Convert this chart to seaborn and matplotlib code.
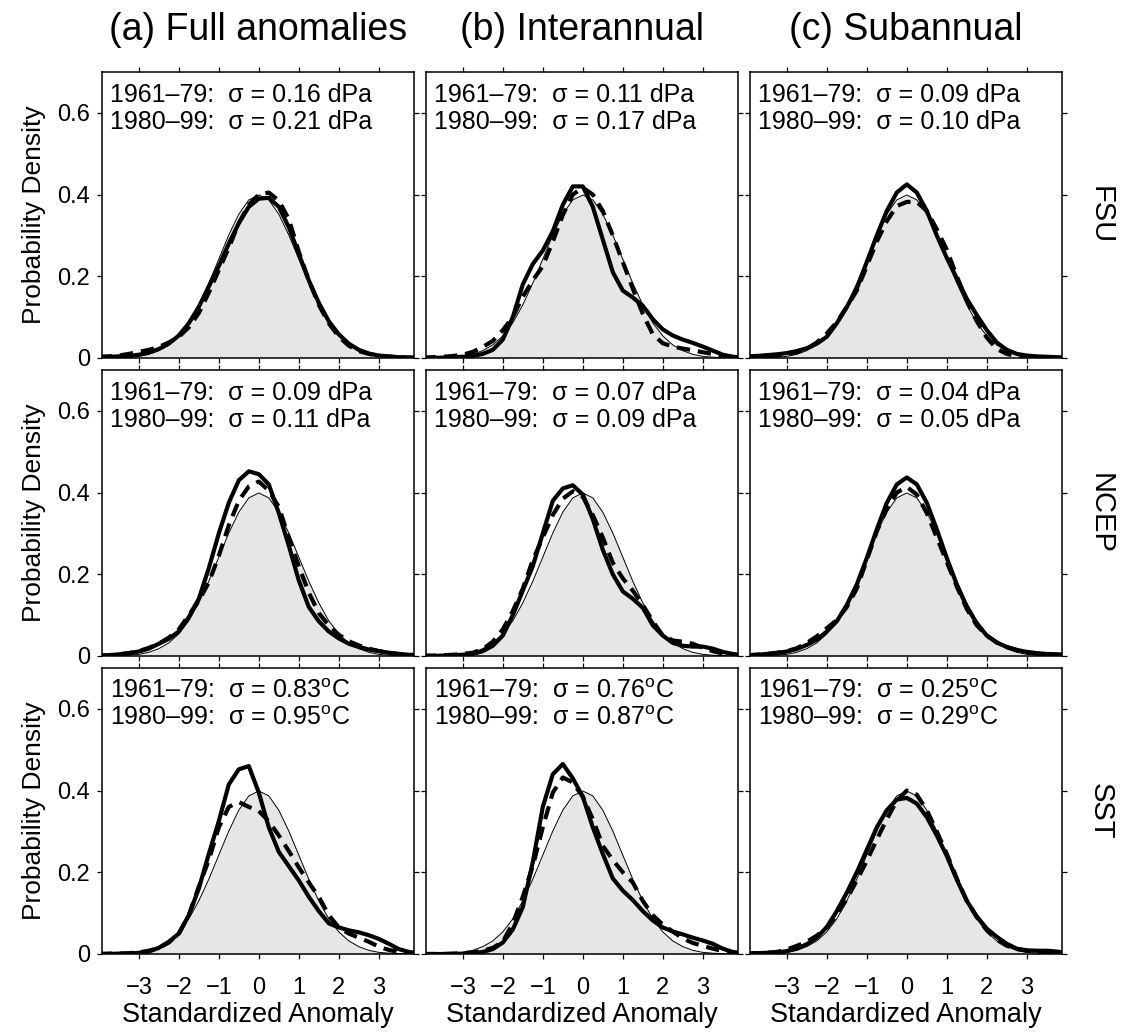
import numpy as np
import pandas as pd
import matplotlib
matplotlib.use("Agg")
import matplotlib.pyplot as plt
import seaborn as sns

# ---------------- data ----------------
x_grid = [-4.0, -3.75, -3.5, -3.25, -3.0, -2.75, -2.5, -2.25, -2.0, -1.75, -1.5, -1.25,
          -1.0, -0.75, -0.5, -0.25, 0.0, 0.25, 0.5, 0.75, 1.0, 1.25, 1.5, 1.75,
          2.0, 2.25, 2.5, 2.75, 3.0, 3.25, 3.5, 3.75, 4.0]

normal_ref = [0.000, 0.000, 0.001, 0.002, 0.004, 0.009, 0.018, 0.032, 0.054, 0.086, 0.130, 0.183,
              0.242, 0.301, 0.352, 0.387, 0.399, 0.387, 0.352, 0.301, 0.242, 0.183, 0.130, 0.086,
              0.054, 0.032, 0.018, 0.009, 0.004, 0.002, 0.001, 0.000, 0.000]

fsu_full_solid = [0.002, 0.003, 0.004, 0.005, 0.008, 0.013, 0.022, 0.035, 0.055, 0.085, 0.125, 0.175,
                  0.225, 0.28, 0.33, 0.37, 0.39, 0.392, 0.37, 0.32, 0.255, 0.19, 0.135, 0.09,
                  0.058, 0.035, 0.02, 0.011, 0.006, 0.004, 0.002, 0.001, 0.001]
fsu_full_dashed = [0.003, 0.004, 0.006, 0.01, 0.015, 0.02, 0.027, 0.038, 0.052, 0.075, 0.11, 0.16,
                   0.215, 0.27, 0.33, 0.375, 0.4, 0.405, 0.385, 0.34, 0.26, 0.19, 0.13, 0.085,
                   0.052, 0.03, 0.017, 0.01, 0.005, 0.003, 0.002, 0.001, 0.0]
fsu_inter_solid = [0.0, 0.0, 0.001, 0.002, 0.003, 0.005, 0.01, 0.02, 0.045, 0.1, 0.18, 0.23,
                   0.263, 0.31, 0.375, 0.42, 0.42, 0.37, 0.29, 0.21, 0.165, 0.148, 0.128, 0.095,
                   0.07, 0.055, 0.045, 0.037, 0.028, 0.018, 0.008, 0.003, 0.001]
fsu_inter_dashed = [0.001, 0.002, 0.003, 0.005, 0.008, 0.015, 0.027, 0.042, 0.068, 0.1, 0.15, 0.19,
                    0.225, 0.285, 0.35, 0.4, 0.417, 0.4, 0.36, 0.3, 0.235, 0.17, 0.108, 0.058,
                    0.036, 0.028, 0.023, 0.019, 0.014, 0.01, 0.006, 0.003, 0.001]
fsu_sub_solid = [0.004, 0.005, 0.007, 0.009, 0.012, 0.017, 0.024, 0.035, 0.052, 0.085, 0.125, 0.17,
                 0.235, 0.3, 0.36, 0.405, 0.425, 0.405, 0.36, 0.3, 0.245, 0.195, 0.145, 0.105,
                 0.068, 0.038, 0.02, 0.01, 0.006, 0.004, 0.003, 0.002, 0.001]
fsu_sub_dashed = [0.002, 0.003, 0.004, 0.006, 0.009, 0.014, 0.022, 0.038, 0.06, 0.088, 0.125, 0.165,
                  0.225, 0.285, 0.335, 0.372, 0.382, 0.382, 0.36, 0.315, 0.265, 0.2, 0.14, 0.09,
                  0.05, 0.022, 0.01, 0.005, 0.003, 0.002, 0.001, 0.001, 0.0]

ncep_full_solid = [0.001, 0.002, 0.004, 0.007, 0.011, 0.018, 0.03, 0.042, 0.06, 0.095, 0.14, 0.215,
                   0.3, 0.375, 0.43, 0.452, 0.445, 0.42, 0.35, 0.27, 0.185, 0.12, 0.085, 0.06,
                   0.043, 0.03, 0.022, 0.016, 0.012, 0.008, 0.005, 0.003, 0.002]
ncep_full_dashed = [0.001, 0.002, 0.004, 0.007, 0.012, 0.02, 0.03, 0.045, 0.065, 0.1, 0.135, 0.18,
                    0.245, 0.32, 0.38, 0.415, 0.427, 0.405, 0.365, 0.29, 0.22, 0.155, 0.105, 0.075,
                    0.052, 0.036, 0.026, 0.018, 0.012, 0.008, 0.005, 0.003, 0.002]
ncep_inter_solid = [0.0, 0.0, 0.001, 0.002, 0.003, 0.005, 0.012, 0.025, 0.05, 0.1, 0.16, 0.22,
                    0.3, 0.38, 0.41, 0.418, 0.395, 0.335, 0.26, 0.2, 0.158, 0.14, 0.118, 0.075,
                    0.05, 0.032, 0.025, 0.023, 0.023, 0.018, 0.01, 0.005, 0.002]
ncep_inter_dashed = [0.001, 0.001, 0.002, 0.003, 0.005, 0.008, 0.017, 0.035, 0.065, 0.11, 0.165, 0.235,
                     0.29, 0.345, 0.385, 0.403, 0.39, 0.345, 0.29, 0.228, 0.19, 0.16, 0.125, 0.085,
                     0.05, 0.038, 0.035, 0.03, 0.02, 0.012, 0.006, 0.003, 0.001]
ncep_sub_solid = [0.002, 0.003, 0.005, 0.007, 0.011, 0.017, 0.027, 0.04, 0.06, 0.085, 0.125, 0.175,
                  0.24, 0.31, 0.375, 0.42, 0.437, 0.42, 0.375, 0.31, 0.24, 0.175, 0.12, 0.08,
                  0.05, 0.033, 0.022, 0.015, 0.01, 0.007, 0.005, 0.004, 0.003]
ncep_sub_dashed = [0.002, 0.003, 0.005, 0.008, 0.012, 0.019, 0.032, 0.048, 0.068, 0.088, 0.12, 0.165,
                   0.235, 0.305, 0.36, 0.4, 0.414, 0.395, 0.35, 0.29, 0.23, 0.17, 0.115, 0.075,
                   0.05, 0.033, 0.022, 0.014, 0.009, 0.006, 0.004, 0.003, 0.002]

sst_full_solid = [0.0, 0.0, 0.001, 0.001, 0.003, 0.006, 0.015, 0.03, 0.05, 0.095, 0.16, 0.245,
                  0.325, 0.415, 0.452, 0.46, 0.395, 0.31, 0.25, 0.215, 0.18, 0.14, 0.105, 0.075,
                  0.065, 0.058, 0.053, 0.046, 0.037, 0.025, 0.012, 0.005, 0.002]
sst_full_dashed = [0.0, 0.001, 0.001, 0.002, 0.004, 0.008, 0.015, 0.028, 0.05, 0.095, 0.165, 0.23,
                   0.31, 0.36, 0.372, 0.36, 0.35, 0.325, 0.29, 0.252, 0.212, 0.175, 0.14, 0.095,
                   0.065, 0.05, 0.04, 0.03, 0.018, 0.01, 0.005, 0.002, 0.001]
sst_inter_solid = [0.0, 0.0, 0.0, 0.0, 0.001, 0.002, 0.005, 0.012, 0.028, 0.06, 0.115, 0.225,
                   0.36, 0.44, 0.465, 0.43, 0.385, 0.31, 0.245, 0.185, 0.155, 0.132, 0.105, 0.082,
                   0.065, 0.055, 0.048, 0.04, 0.033, 0.025, 0.013, 0.005, 0.002]
sst_inter_dashed = [0.0, 0.0, 0.0, 0.001, 0.002, 0.004, 0.008, 0.015, 0.03, 0.075, 0.14, 0.215,
                    0.31, 0.395, 0.432, 0.42, 0.385, 0.33, 0.265, 0.23, 0.2, 0.175, 0.13, 0.095,
                    0.072, 0.055, 0.038, 0.027, 0.02, 0.013, 0.007, 0.003, 0.001]
sst_sub_solid = [0.002, 0.002, 0.003, 0.004, 0.007, 0.013, 0.024, 0.04, 0.066, 0.105, 0.15, 0.2,
                 0.255, 0.31, 0.352, 0.378, 0.382, 0.368, 0.335, 0.29, 0.24, 0.182, 0.13, 0.092,
                 0.062, 0.042, 0.025, 0.013, 0.009, 0.008, 0.008, 0.006, 0.003]
sst_sub_dashed = [0.001, 0.002, 0.003, 0.005, 0.011, 0.02, 0.03, 0.045, 0.065, 0.095, 0.135, 0.18,
                  0.228, 0.28, 0.33, 0.375, 0.4, 0.39, 0.352, 0.3, 0.245, 0.185, 0.13, 0.09,
                  0.058, 0.035, 0.02, 0.012, 0.008, 0.005, 0.003, 0.002, 0.001]

column_titles = ["(a) Full anomalies", "(b) Interannual", "(c) Subannual"]
row_labels = ["FSU", "NCEP", "SST"]

sigma_early = [["0.16", "0.11", "0.09"], ["0.09", "0.07", "0.04"], ["0.83", "0.76", "0.25"]]
sigma_late = [["0.21", "0.17", "0.10"], ["0.11", "0.09", "0.05"], ["0.95", "0.87", "0.29"]]
row_units = ["dPa", "dPa", "degC"]

x_ticks = [-3, -2, -1, 0, 1, 2, 3]
x_tick_labels = ["\u22123", "\u22122", "\u22121", "0", "1", "2", "3"]
y_ticks = [0, 0.2, 0.4, 0.6]
y_tick_labels = ["0", "0.2", "0.4", "0.6"]

solid_curves = [[fsu_full_solid, fsu_inter_solid, fsu_sub_solid],
                [ncep_full_solid, ncep_inter_solid, ncep_sub_solid],
                [sst_full_solid, sst_inter_solid, sst_sub_solid]]
dashed_curves = [[fsu_full_dashed, fsu_inter_dashed, fsu_sub_dashed],
                 [ncep_full_dashed, ncep_inter_dashed, ncep_sub_dashed],
                 [sst_full_dashed, sst_inter_dashed, sst_sub_dashed]]

# ---------------- style ----------------
sns.set_style("ticks")
plt.rcParams["font.family"] = ["Liberation Sans", "DejaVu Sans"]
plt.rcParams["mathtext.fontset"] = "custom"
plt.rcParams["mathtext.rm"] = "Liberation Sans"
plt.rcParams["mathtext.it"] = "Liberation Sans:italic"
plt.rcParams["axes.linewidth"] = 1.1
plt.rcParams["axes.edgecolor"] = "black"
plt.rcParams["text.color"] = "black"
plt.rcParams["axes.labelcolor"] = "black"
plt.rcParams["xtick.color"] = "black"
plt.rcParams["ytick.color"] = "black"

W, H = 1130, 1032
fig = plt.figure(figsize=(W / 100, H / 100), dpi=100)

col_left = [102, 426, 750]
row_top = [72, 370, 668]
pw, ph = 312, 286

def fmt_sigma(label, val, unit):
    if unit == "dPa":
        return f"{label}  \u03c3 = {val} dPa"
    return f"{label}  \u03c3 = {val}$^{{\\mathrm{{o}}}}$C"

for r in range(3):
    for c in range(3):
        left = col_left[c] / W
        bottom = 1 - (row_top[r] + ph) / H
        ax = fig.add_axes([left, bottom, pw / W, ph / H])
        df = pd.DataFrame({"x": x_grid, "normal": normal_ref,
                           "solid": solid_curves[r][c], "dashed": dashed_curves[r][c]})
        ax.fill_between(df["x"], 0, df["normal"], color="#e6e6e6", lw=0, zorder=1)
        sns.lineplot(data=df, x="x", y="normal", ax=ax, color="black", lw=0.7,
                     estimator=None, sort=False, zorder=2)
        sns.lineplot(data=df, x="x", y="dashed", ax=ax, color="black", lw=3.0,
                     estimator=None, sort=False, zorder=3,
                     linestyle=(0, (3.2, 1.9)), dash_capstyle="butt")
        sns.lineplot(data=df, x="x", y="solid", ax=ax, color="black", lw=3.0,
                     estimator=None, sort=False, zorder=4, solid_joinstyle="round")
        ax.set_xlim(-3.92, 3.88)
        ax.set_ylim(0, 0.70)
        ax.set_xticks(x_ticks)
        ax.set_yticks(y_ticks)
        ax.tick_params(direction="out", length=3.8, width=0.9, top=True, right=True,
                       bottom=True, left=True, labelsize=17, colors="black")
        ax.tick_params(axis="x", pad=13)
        ax.tick_params(axis="y", pad=5)
        if c == 0:
            ax.set_yticklabels(y_tick_labels)
            ax.set_ylabel("Probability Density", fontsize=19, labelpad=8)
        else:
            ax.set_yticklabels([])
            ax.set_ylabel("")
        if r == 2:
            ax.set_xticklabels(x_tick_labels)
            ax.set_xlabel("Standardized Anomaly", fontsize=19.5, labelpad=2)
        else:
            ax.set_xticklabels([])
            ax.set_xlabel("")
        txt = fmt_sigma("1961\u201379:", sigma_early[r][c], row_units[r]) + "\n" + \
              fmt_sigma("1980\u201399:", sigma_late[r][c], row_units[r])
        ax.text(0.027, 0.96, txt, transform=ax.transAxes, ha="left", va="top",
                fontsize=18, linespacing=1.15)
        for s in ax.spines.values():
            s.set_visible(True)
            s.set_linewidth(1.1)
        if r == 0:
            ax.set_title(column_titles[c], fontsize=27, pad=23)
        if c == 2:
            ax.text(1.125, 0.5, row_labels[r], transform=ax.transAxes, rotation=-90,
                    ha="center", va="center", fontsize=21)

fig.savefig("out.png", dpi=100)
